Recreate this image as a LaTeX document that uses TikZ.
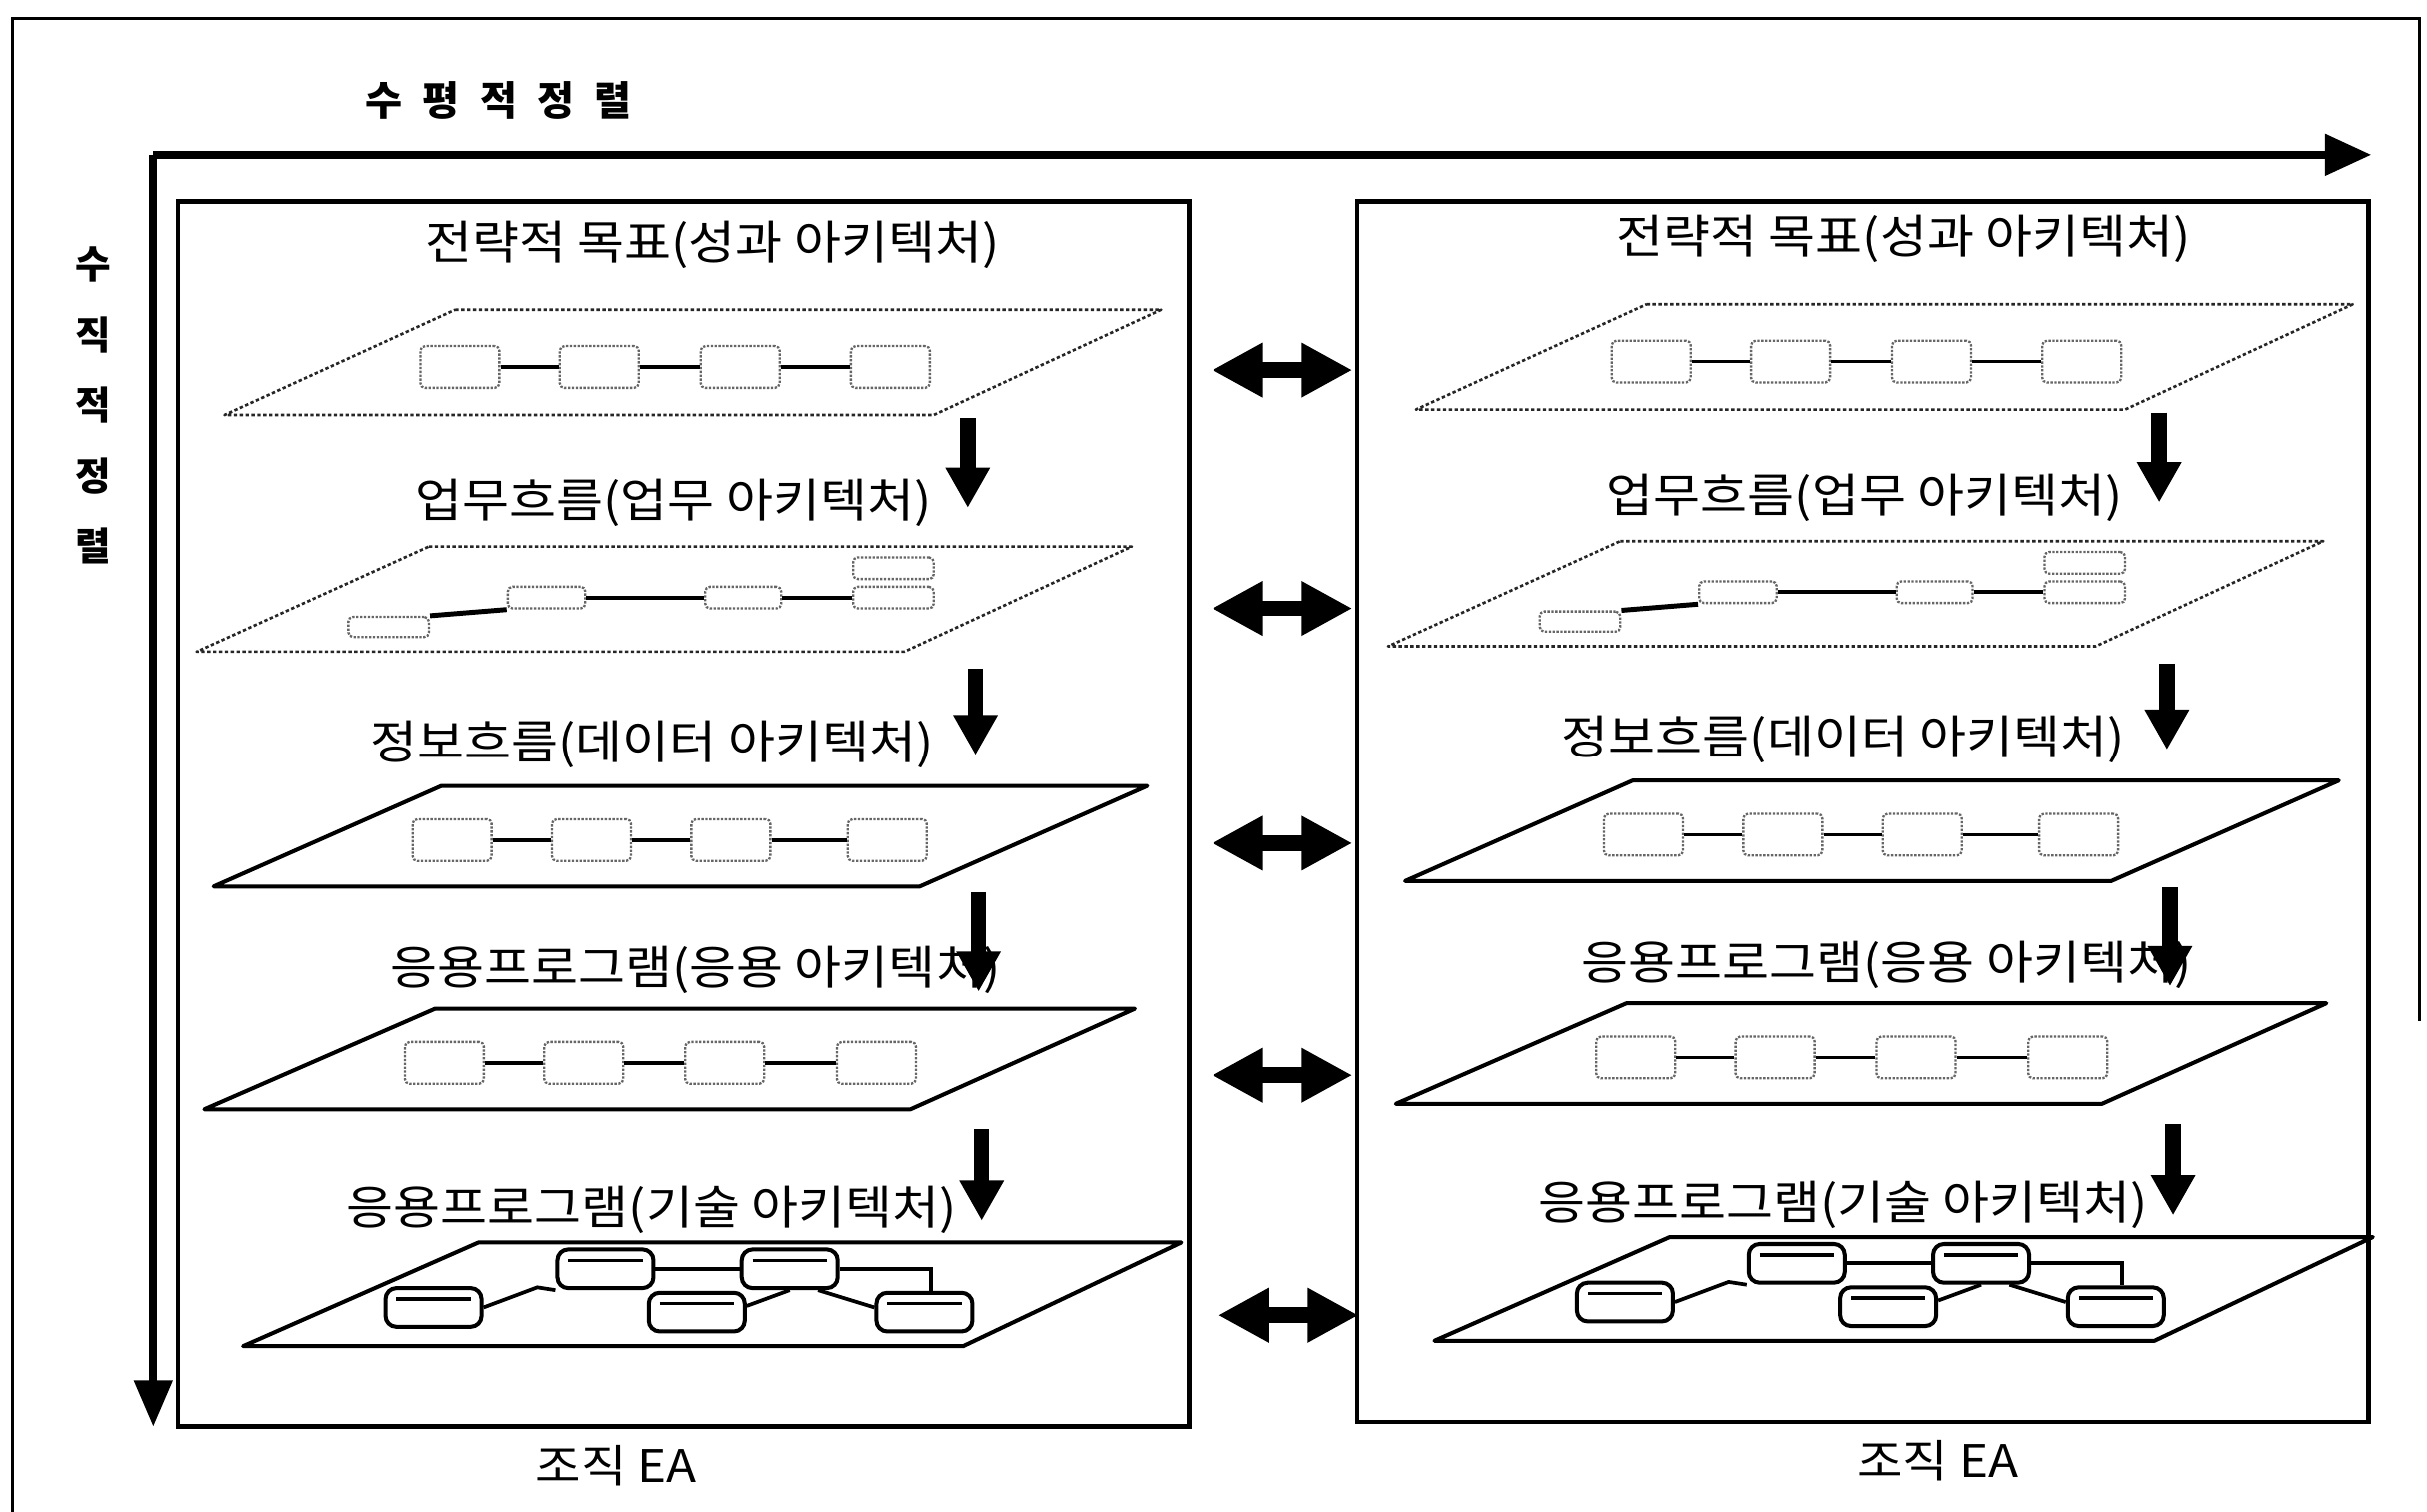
\documentclass[tikz,border=0pt]{standalone}
\usepackage{fontspec}
\setmainfont{Noto Sans CJK KR}
\newfontfamily\titlefont[FakeStretch=1.1]{Noto Sans CJK KR}
\usetikzlibrary{arrows.meta,calc}
\tikzset{
  layertitle/.style={font=\titlefont\fontsize{30}{32}\selectfont, inner sep=0pt},
  planedot/.style={line width=1.7pt, dash pattern=on 2.2pt off 1.6pt, black!85, line join=round},
  planesolid/.style={line width=2.6pt, black, line join=round},
  ebox/.style={draw=black!60, densely dotted, line width=1.5pt, rounded corners=3pt, inner sep=0pt, minimum width=51pt, minimum height=27pt},
  link/.style={line width=2.4pt, black},
  drum/.style={draw, line width=2.6pt, rounded corners=7pt, inner sep=0pt, minimum width=62pt, minimum height=25pt,
    path picture={\draw[line width=2.2pt] ([xshift=7pt,yshift=-7pt]path picture bounding box.north west) -- ([xshift=-7pt,yshift=-7pt]path picture bounding box.north east);}},
  downarrow/.style={line width=10pt, -{Triangle[width=27pt,length=26pt]}},
  twoway/.style={line width=10pt, {Triangle[width=33pt,length=33pt]}-{Triangle[width=33pt,length=33pt]}},
  frameline/.style={line width=3pt, black},
}
\newcommand\eacolumn[3]{%
\begin{scope}[xshift=#2, yshift=#3, name prefix=#1-]
  % titles
  \node[layertitle] (t1) at (460,158) {전략적 목표(성과 아키텍처)};
  \node[layertitle] (t2) at (435,325) {업무흐름(업무 아키텍처)};
  \node[layertitle] (t3) at (421,481) {정보흐름(데이터 아키텍처)};
  \node[layertitle] (t4) at (449,627) {응용프로그램(응용 아키텍처)};
  \node[layertitle] (t5) at (421,782) {응용프로그램(기술 아키텍처)};
  % plane 1
  \draw[planedot] (294,200) -- (750,200) -- (603,268) -- (145,268) -- cycle;
  \node[ebox] (p1a) at (297,237) {};
  \node[ebox] (p1b) at (387,237) {};
  \node[ebox] (p1c) at (478,237) {};
  \node[ebox] (p1d) at (575,237) {};
  \draw[link] (p1a) -- (p1b);
  \draw[link] (p1b) -- (p1c);
  \draw[link] (p1c) -- (p1d);
  % plane 2
  \draw[planedot] (277,353) -- (731,353) -- (584,421) -- (127,421) -- cycle;
  \node[ebox, minimum width=52pt, minimum height=13pt] (p2a) at (251,405) {};
  \node[ebox, minimum width=50pt, minimum height=14pt] (p2b) at (353,386) {};
  \node[ebox, minimum width=49pt, minimum height=14pt] (p2c) at (480,386) {};
  \node[ebox, minimum width=52pt, minimum height=14pt] (p2d) at (577,367) {};
  \node[ebox, minimum width=52pt, minimum height=14pt] (p2e) at (577,386) {};
  \draw[link, line width=3.2pt] (p2a.north east) -- (p2b.south west);
  \draw[link] (p2b) -- (p2c);
  \draw[link] (p2c) -- (p2e);
  % plane 3
  \draw[planesolid] (285,508) -- (741,508) -- (594,573) -- (138,573) -- cycle;
  \node[ebox] (p3a) at (292,543) {};
  \node[ebox] (p3b) at (382,543) {};
  \node[ebox] (p3c) at (472,543) {};
  \node[ebox] (p3d) at (573,543) {};
  \draw[link] (p3a) -- (p3b);
  \draw[link] (p3b) -- (p3c);
  \draw[link] (p3c) -- (p3d);
  % plane 4
  \draw[planesolid] (281,652) -- (733,652) -- (588,717) -- (132,717) -- cycle;
  \node[ebox] (p4a) at (287,687) {};
  \node[ebox] (p4b) at (377,687) {};
  \node[ebox] (p4c) at (468,687) {};
  \node[ebox] (p4d) at (566,687) {};
  \draw[link] (p4a) -- (p4b);
  \draw[link] (p4b) -- (p4c);
  \draw[link] (p4c) -- (p4d);
  % plane 5
  \draw[planesolid] (309,803) -- (763,803) -- (622,870) -- (157,870) -- cycle;
  \node[drum] (c1) at (280,845) {};
  \node[drum] (c2) at (391,820) {};
  \node[drum] (c3) at (450,848) {};
  \node[drum] (c4) at (510,820) {};
  \node[drum] (c5) at (597,848) {};
  \draw[link] (c1.east) -- (347,832) -- (c2.south west);
  \draw[link] (c2.east) -- (c4.west);
  \draw[link] (c4.east) -| ([xshift=4pt]c5.north);
  \draw[link] (c4.south) -- ([yshift=4pt]c3.east);
  \draw[link] ([xshift=-14pt]c4.south east) -- ([yshift=3pt]c5.west);
  % down arrows
  \coordinate (a1s) at (625,270); \coordinate (a1e) at (625,328);
  \coordinate (a2s) at (630,432); \coordinate (a2e) at (630,488);
  \coordinate (a3s) at (632,577); \coordinate (a3e) at (632,641);
  \coordinate (a4s) at (634,730); \coordinate (a4e) at (634,789);
  \draw[downarrow] (a1s) -- (a1e);
  \draw[downarrow] (a2s) -- (a2e);
  \draw[downarrow] (a3s) -- (a3e);
  \draw[downarrow] (a4s) -- (a4e);
\end{scope}}
\begin{document}
\begin{tikzpicture}[x=1pt,y=-1pt]
  \useasboundingbox[fill=white] (0,0) rectangle (1568,977);
  % outer frame
  \draw[line width=2pt] (8,977) -- (8,12) -- (1563,12) -- (1563,660);
  % main axes
  \coordinate (origin) at (99,100);
  \coordinate (hend) at (1532,100);
  \coordinate (vend) at (99,922);
  \draw[line width=5pt, -{Triangle[width=26pt,length=30pt]}] (origin) -- (hend);
  \draw[line width=5pt, -{Triangle[width=24pt,length=30pt]}] (origin) -- (vend);
  \node[font=\bfseries\fontsize{26}{28}\selectfont, inner sep=0pt,
        execute at begin node={\spaceskip=13pt\relax}] (htitle) at (322,65) {수 평 적 정 렬};
  \node[font=\bfseries\fontsize{25}{45.5}\selectfont, inner sep=0pt, align=center] (vtitle) at (60,262) {수\\직\\적\\정\\렬};
  % boxes
  \draw[frameline] (115,130) rectangle (768,922);
  \draw[frameline] (877,130) rectangle (1530,919);
  \node[font=\titlefont\fontsize{29}{31}\selectfont, inner sep=0pt] (lbl) at (398,947) {조직 EA};
  \node[font=\titlefont\fontsize{29}{31}\selectfont, inner sep=0pt] (rbl) at (1252,944) {조직 EA};
  % columns
  \eacolumn{L}{0pt}{0pt}
  \eacolumn{R}{770pt}{3.5pt}
  % two-way arrows
  \coordinate (d1l) at (783,239); \coordinate (d1r) at (874,239);
  \coordinate (d2l) at (783,393); \coordinate (d2r) at (874,393);
  \coordinate (d3l) at (783,545); \coordinate (d3r) at (874,545);
  \coordinate (d4l) at (783,695); \coordinate (d4r) at (874,695);
  \coordinate (d5l) at (787,850); \coordinate (d5r) at (878,850);
  \draw[twoway] (d1l) -- (d1r);
  \draw[twoway] (d2l) -- (d2r);
  \draw[twoway] (d3l) -- (d3r);
  \draw[twoway] (d4l) -- (d4r);
  \draw[twoway] (d5l) -- (d5r);
\end{tikzpicture}
\end{document}
